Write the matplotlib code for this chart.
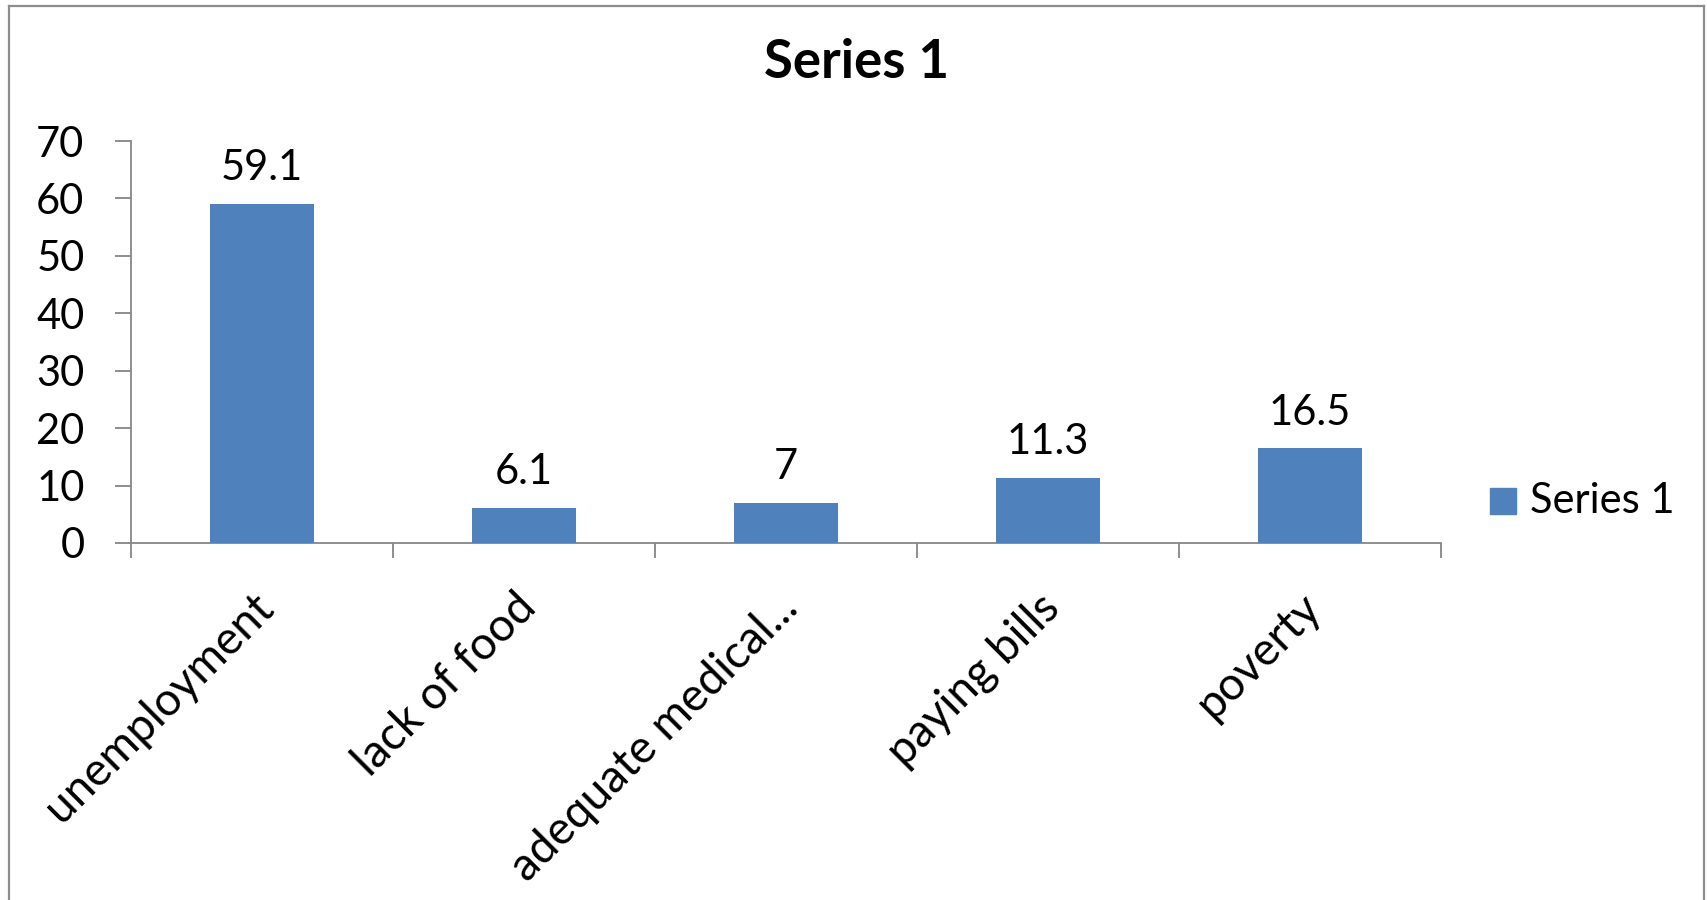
import matplotlib.pyplot as plt
import matplotlib.transforms as mtransforms
from matplotlib.lines import Line2D
from matplotlib.patches import Rectangle

plt.rcParams['font.family'] = ['Lato', 'DejaVu Sans']

# chart data
categories = ["unemployment", "lack of food", "adequate medical...", "paying bills", "poverty"]
values = [59.1, 6.1, 7, 11.3, 16.5]
series_name = "Series 1"
y_ticks = [0, 10, 20, 30, 40, 50, 60, 70]

bar_color = "#4F81BD"
axis_color = "#868686"

W, H = 1708, 900
fig = plt.figure(figsize=(W / 100, H / 100), dpi=100)
ax = fig.add_axes([131 / W, 1 - 543 / H, (1441 - 131) / W, (543 - 141) / H])

x = list(range(len(categories)))
bars = ax.bar(x, values, width=0.4, color=bar_color, zorder=3)

# value labels above bars
for xi, v in zip(x, values):
    ax.annotate(f"{v:g}", (xi, v), xytext=(0, 17), textcoords="offset points",
                ha="center", va="baseline", fontsize=30)

ax.set_xlim(-0.5, len(categories) - 0.5)
ax.set_ylim(0, 70)
ax.set_yticks(y_ticks)
ax.tick_params(axis="y", length=11.5, width=1.3, color=axis_color, pad=22, labelsize=30)

# category labels on major ticks, boundary ticks as minor ticks
ax.set_xticks(x)
ax.set_xticklabels(categories, rotation=45, ha="right", rotation_mode="anchor", fontsize=33)
ax.tick_params(axis="x", which="major", length=0, pad=31)
shift = mtransforms.ScaledTranslation(-10 / 100, 0, fig.dpi_scale_trans)
for lbl in ax.get_xticklabels():
    lbl.set_transform(lbl.get_transform() + shift)
ax.set_xticks([i - 0.5 for i in range(len(categories) + 1)], minor=True)
ax.tick_params(axis="x", which="minor", length=11, width=1.3, color=axis_color)

for side in ["top", "right"]:
    ax.spines[side].set_visible(False)
for side in ["left", "bottom"]:
    ax.spines[side].set_color(axis_color)
    ax.spines[side].set_linewidth(1.3)

fig.text(857 / W, 1 - 62 / H, series_name, ha="center", va="center",
         fontsize=38, fontweight="bold")

# legend drawn by hand
fig.patches.append(Rectangle((1490 / W, 1 - 514 / H), 26 / W, 26 / H,
                             transform=fig.transFigure, color=bar_color))
fig.text(1530 / W, 1 - 501 / H, series_name, ha="left", va="center", fontsize=30)

# outer chart frame (no bottom edge)
frame = dict(color="#8c8c8c", linewidth=1.6, transform=fig.transFigure)
fig.lines.append(Line2D([9 / W, 9 / W], [0, 1 - 6 / H], **frame))
fig.lines.append(Line2D([9 / W, 1704 / W], [1 - 6 / H, 1 - 6 / H], **frame))
fig.lines.append(Line2D([1704 / W, 1704 / W], [1 - 6 / H, 0], **frame))

fig.savefig("out.png", dpi=100)
